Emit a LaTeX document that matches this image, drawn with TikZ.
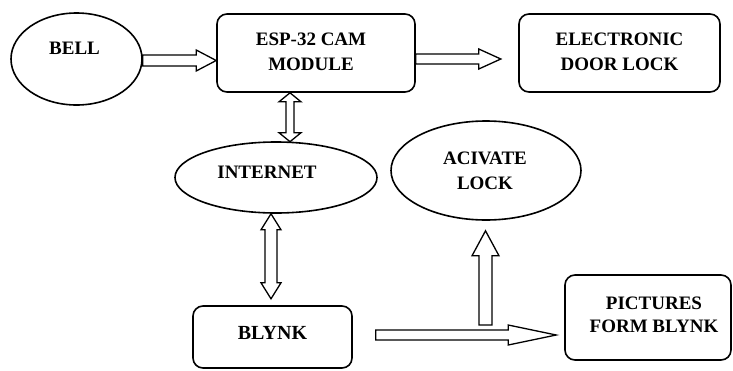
\documentclass[tikz,border=0pt]{standalone}
\usepackage{fontspec}
\setmainfont{Liberation Serif}
\usetikzlibrary{shapes.geometric,calc}
\tikzset{
  boxnode/.style={draw, line width=1.6pt, rounded corners=10pt, inner sep=0pt},
  ellnode/.style={draw, ellipse, line width=1.6pt, inner sep=0pt},
  txt/.style={font=\fontsize{19}{25}\selectfont\bfseries, align=center, inner sep=0pt},
  blk/.style={draw, line width=1.3pt, fill=white, line join=miter}
}
% arrow to the right: tail #1, tip #2, half body #3, half head #4, head length #5
\newcommand\arrRight[5]{\draw[blk] ($(#1)+(0,-#3)$) -- ($(#2)+(-#5,-#3)$) -- ($(#2)+(-#5,-#4)$) -- (#2) -- ($(#2)+(-#5,#4)$) -- ($(#2)+(-#5,#3)$) -- ($(#1)+(0,#3)$) -- cycle;}
% arrow up: tail #1 (bottom), tip #2 (top)
\newcommand\arrUp[5]{\draw[blk] ($(#1)+(-#3,0)$) -- ($(#2)+(-#3,#5)$) -- ($(#2)+(-#4,#5)$) -- (#2) -- ($(#2)+(#4,#5)$) -- ($(#2)+(#3,#5)$) -- ($(#1)+(#3,0)$) -- cycle;}
% double vertical arrow: top tip #1, bottom tip #2
\newcommand\arrDbl[5]{\draw[blk] (#1) -- ($(#1)+(#4,#5)$) -- ($(#1)+(#3,#5)$) -- ($(#2)+(#3,-#5)$) -- ($(#2)+(#4,-#5)$) -- (#2) -- ($(#2)+(-#4,-#5)$) -- ($(#2)+(-#3,-#5)$) -- ($(#1)+(-#3,#5)$) -- ($(#1)+(-#4,#5)$) -- cycle;}
\begin{document}
\begin{tikzpicture}[x=1pt,y=-1pt]
\useasboundingbox (0,0) rectangle (733,370);

% shapes
\node[ellnode, minimum width=131pt, minimum height=92pt] (bell) at (76.5,59) {};
\node[boxnode, minimum width=198pt, minimum height=78pt] (esp) at (316,53) {};
\node[boxnode, minimum width=201pt, minimum height=78pt] (lock) at (619.5,53) {};
\node[ellnode, minimum width=202pt, minimum height=71pt] (net) at (276,177.5) {};
\node[ellnode, minimum width=190pt, minimum height=99pt] (act) at (486,170.5) {};
\node[boxnode, minimum width=159pt, minimum height=62pt] (blynk) at (272.5,337) {};
\node[boxnode, minimum width=166pt, minimum height=85pt] (pics) at (648,317.5) {};

% texts
\node[txt] (bellT) at ($(bell)+(-2,-11)$) {BELL};
\node[txt] (espT) at ($(esp)+(-5,-1)$) {ESP-32 CAM\\MODULE};
\node[txt] (lockT) at ($(lock)+(0,-1)$) {ELECTRONIC\\DOOR LOCK};
\node[txt] (netT) at ($(net)+(-9,-5)$) {INTERNET};
\node[txt] (actT) at ($(act)+(-1,0)$) {ACIVATE\\LOCK};
\node[txt, font=\fontsize{20}{24}\selectfont\bfseries] (blynkT) at ($(blynk)+(0,-4)$) {BLYNK};
\node[txt, font=\fontsize{19}{23}\selectfont\bfseries] (picsT) at ($(pics)+(6,-3)$) {PICTURES\\FORM BLYNK};

% connector end points
\coordinate (a1s) at ($(bell.east)+(0,1.5)$);
\coordinate (a1e) at (esp.west |- a1s);
\coordinate (a2s) at ($(esp.east)+(0,6)$);
\coordinate (a2e) at ($(a2s)+(85,0)$);
\coordinate (a3s) at ($(esp.south)+(-26,0)$);
\coordinate (a3e) at ($(net.north)+(14,0.5)$);
\coordinate (a4s) at ($(net.south)+(-5,0)$);
\coordinate (a4e) at ($(a4s)+(0,85)$);
\coordinate (a5s) at ($(blynk.east)+(23,-2)$);
\coordinate (a5e) at ($(pics.west |- a5s)+(-8,0)$);
\coordinate (a6s) at (485.5,325);
\coordinate (a6e) at ($(act.south)+(-0.5,10)$);

% connectors
\arrRight{a1s}{a1e}{5.5}{10.5}{20}
\arrRight{a2s}{a2e}{5}{10}{22}
\arrDbl{a3s}{a3e}{4}{11}{9}
\arrDbl{a4s}{a4e}{6}{10}{16}
\arrUp{a6s}{a6e}{6.5}{13.5}{25}
\arrRight{a5s}{a5e}{5}{10}{48}
\end{tikzpicture}
\end{document}
